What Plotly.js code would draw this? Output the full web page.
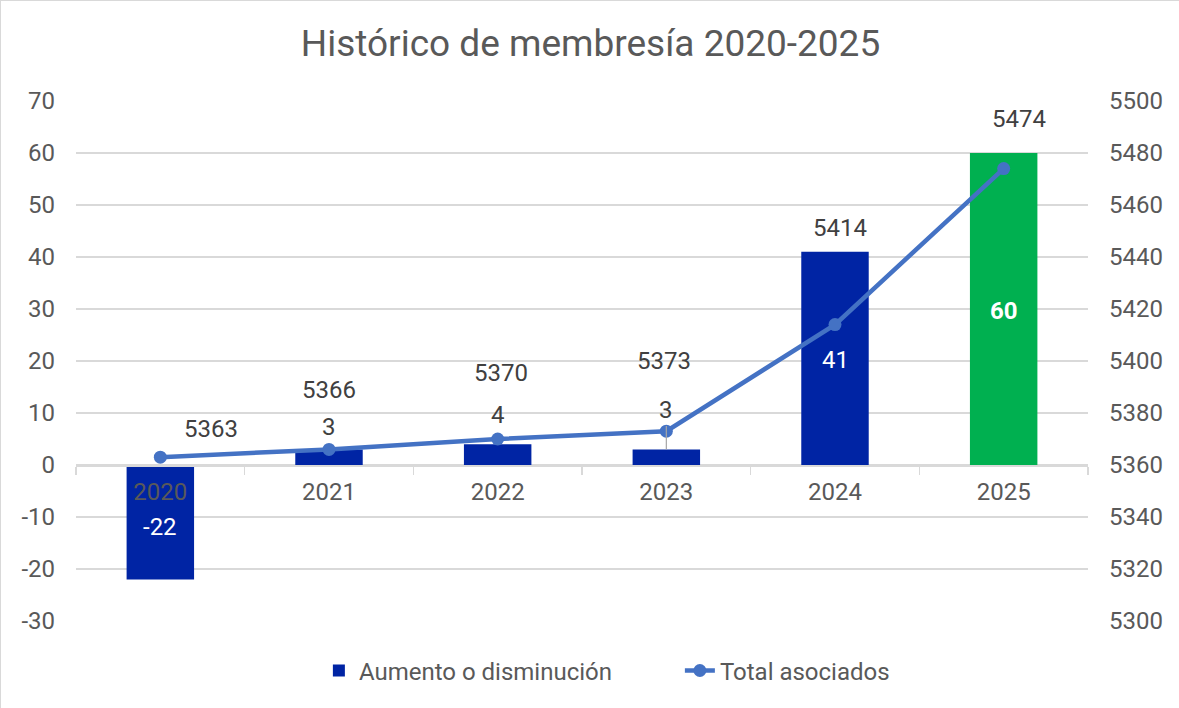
<!DOCTYPE html>
<html>
<head>
<meta charset="utf-8">
<script src="https://cdn.plot.ly/plotly-3.0.1.min.js"></script>
<style>
  html, body { margin: 0; padding: 0; background: #fff; }
  #chart { width: 1179px; height: 708px; box-sizing: border-box; border: 1px solid #d9d9d9; }
</style>
</head>
<body>
<div id="chart"></div>
<script>
const years = ['2020', '2021', '2022', '2023', '2024', '2025'];
const change = [-22, 3, 4, 3, 41, 60];
const totals = [5363, 5366, 5370, 5373, 5414, 5474];
const leftTicks = [-30, -20, -10, 0, 10, 20, 30, 40, 50, 60, 70];
const leftTickText = ['-30', '-20', '-10', '0', '10', '20', '30', '40', '50', '60', '70'];
const rightTicks = [5300, 5320, 5340, 5360, 5380, 5400, 5420, 5440, 5460, 5480, 5500];

// styles / label placement (pixels)
const barColors = ['#0024a4', '#0024a4', '#0024a4', '#0024a4', '#0024a4', '#00b050'];
const barLabelShift = [52, 22, 29, 39, -108, -158];
const barLabelColor = ['#ffffff', '#404040', '#404040', '#404040', '#ffffff', '#ffffff'];
const barLabelBold = [false, false, false, false, false, true];
const lineLabelDx = [51, 0, 3, -2, 5, 15];
const lineLabelDy = [28, 59, 66, 70, 97, 50];

const FONT = 'Roboto, "Liberation Sans", sans-serif';
const TXT = '#595959';
const FS = 24;

const annotations = [];
years.forEach((y, i) => {
  if (i === 3) {
    annotations.push({
      x: i, y: change[i], xref: 'x', yref: 'y',
      text: String(change[i]), showarrow: true, arrowhead: 0, arrowwidth: 1.2,
      arrowcolor: '#a6a6a6', ax: 0, ay: -barLabelShift[i], standoff: 0,
      font: { family: FONT, size: FS, color: barLabelColor[i] }
    });
  } else {
    annotations.push({
      x: i, y: change[i], xref: 'x', yref: 'y',
      text: barLabelBold[i] ? '<b>' + change[i] + '</b>' : String(change[i]),
      showarrow: false, yanchor: 'middle', yshift: barLabelShift[i],
      font: { family: FONT, size: FS, color: barLabelColor[i] }
    });
  }
  annotations.push({
    x: i, y: totals[i], xref: 'x', yref: 'y2',
    text: String(totals[i]), showarrow: false, yanchor: 'middle',
    xshift: lineLabelDx[i], yshift: lineLabelDy[i],
    font: { family: FONT, size: FS, color: '#404040' }
  });
});

const data = [
  {
    type: 'bar', name: 'Aumento o disminución', x: years, y: change,
    marker: { color: barColors }, width: 0.4, yaxis: 'y', hoverinfo: 'skip'
  },
  {
    type: 'scatter', mode: 'lines+markers', name: 'Total asociados', x: years, y: totals,
    yaxis: 'y2', line: { color: '#4472c4', width: 4.5 },
    marker: { color: '#4472c4', size: 13 }, hoverinfo: 'skip'
  }
];

const layout = {
  width: 1179, height: 708,
  margin: { l: 75, r: 92, t: 100, b: 88 },
  paper_bgcolor: '#ffffff', plot_bgcolor: '#ffffff',
  font: { family: FONT, size: FS, color: TXT },
  title: {
    text: 'Histórico de membresía 2020-2025',
    font: { family: FONT, size: 37, color: TXT },
    x: 0.5, xanchor: 'center', y: 0.94, yanchor: 'middle'
  },
  showlegend: true,
  legend: {
    orientation: 'h', x: 0.24, xanchor: 'left', y: -0.096, yanchor: 'middle',
    entrywidth: 316, entrywidthmode: 'pixels',
    font: { family: FONT, size: FS, color: TXT }, traceorder: 'normal'
  },
  xaxis: {
    type: 'category', categoryorder: 'array', categoryarray: years,
    range: [-0.5, 5.5], autorange: false,
    anchor: 'free', position: 0.3,
    showline: true, linecolor: '#d9d9d9', linewidth: 1.5,
    ticks: 'outside', ticklen: 8, tickcolor: '#d9d9d9', tickwidth: 1.5,
    tickson: 'boundaries', showgrid: false, zeroline: false, tickangle: 0,
    tickfont: { family: FONT, size: FS, color: TXT }, ticklabelstandoff: 5
  },
  yaxis: {
    range: [-30, 70], tickmode: 'array', tickvals: leftTicks, ticktext: leftTickText,
    showgrid: true, gridcolor: '#d9d9d9', gridwidth: 1.5,
    zeroline: false, showline: false, ticks: '',
    tickfont: { family: FONT, size: FS, color: TXT }, ticklabelstandoff: 20
  },
  yaxis2: {
    range: [5300, 5500], tickvals: rightTicks, overlaying: 'y', side: 'right',
    showgrid: false, zeroline: false, showline: false, ticks: '',
    tickfont: { family: FONT, size: FS, color: TXT }, ticklabelstandoff: 20
  },
  annotations: annotations
};

Plotly.newPlot('chart', data, layout, { staticPlot: true, displayModeBar: false });
</script>
</body>
</html>
